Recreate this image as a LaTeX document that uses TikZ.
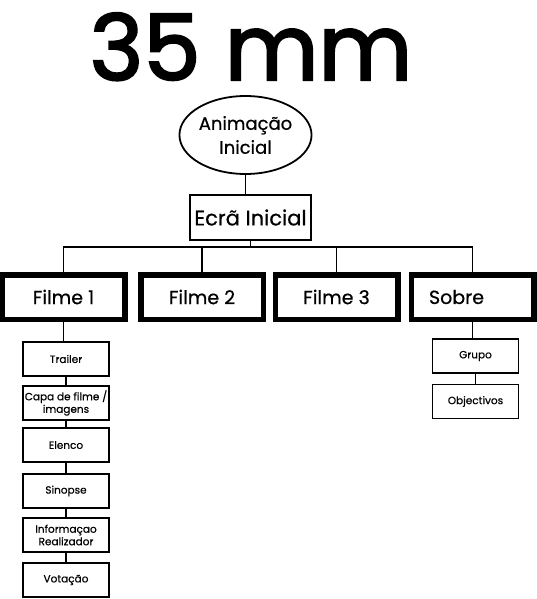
\documentclass[tikz,border=0pt]{standalone}
\usepackage{fontspec}
\setmainfont{Poppins}
\newfontfamily\titulofont[FakeBold=2.5]{Poppins}
\newfontfamily\rotulofont[FakeBold=0.6]{Poppins}
\usetikzlibrary{shapes.geometric}

\begin{document}
\begin{tikzpicture}[x=1pt,y=-1pt,
  linha/.style={line width=1.5pt},
  filme/.style={draw,line width=5.5pt,minimum width=122.5pt,minimum height=44.5pt,inner sep=0pt,font=\rotulofont\fontsize{19}{22}\selectfont},
  item/.style={draw,line width=1.8pt,minimum width=86pt,minimum height=34pt,inner sep=0pt,align=center,font=\rotulofont\fontsize{10.5}{12.5}\selectfont}]
\useasboundingbox (0,0) rectangle (537,599);
% titulo
\node[anchor=base] (titulo) at (251,80) {\titulofont\fontsize{91}{91}\selectfont 35 mm};
% animacao e ecra inicial
\node[draw,ellipse,line width=1.8pt,minimum width=123pt,minimum height=78pt,inner sep=0pt,align=center,font=\rotulofont\fontsize{18}{24}\selectfont] (anim) at (245.5,135) {Animação\\Inicial};
\node[draw,line width=1.8pt,minimum width=121pt,minimum height=45pt,inner sep=0pt,font=\rotulofont\fontsize{21}{26}\selectfont] (ecra) at (250.5,217.5) {Ecrã Inicial};
\draw[linha] (anim.south) -- (anim.south |- ecra.north);
% filmes
\node[filme] (filme1) at (63.5,297) {Filme 1};
\node[filme] (filme2) at (202,297) {Filme 2};
\node[filme] (filme3) at (336.5,297) {Filme 3};
\node[filme,text width=87pt,align=left] (sobre) at (472.5,297) {Sobre};
\draw[linha] (ecra.south) -- ++(0,6) coordinate (bus);
\draw[linha] (bus) -| (filme1.north);
\draw[linha] (bus) -| (filme2.north);
\draw[linha] (bus) -| (filme3.north);
\draw[linha] (bus) -| (sobre.north);
% filme 1
\node[item] (trailer) at (66,359) {Trailer};
\node[item] (capa) at (66,403) {Capa de filme /\\imagens};
\node[item] (elenco) at (66,445) {Elenco};
\node[item] (sinopse) at (66,491) {Sinopse};
\node[item] (info) at (66,535) {Informaçao\\Realizador};
\node[item] (votacao) at (66,580) {Votação};
\draw[linha] (filme1.south) -- (filme1.south |- trailer.north);
\draw[linha] (trailer) -- (capa);
\draw[linha] (capa) -- (elenco);
\draw[linha] (elenco) -- (sinopse);
\draw[linha] (sinopse) -- (info);
\draw[linha] (info) -- (votacao);
% sobre
\node[item] (grupo) at (475.5,356) {Grupo};
\node[item] (objectivos) at (475.5,401.5) {Objectivos};
\draw[linha] (sobre.south) -- (sobre.south |- grupo.north);
\draw[linha] (grupo) -- (objectivos);
\end{tikzpicture}
\end{document}
